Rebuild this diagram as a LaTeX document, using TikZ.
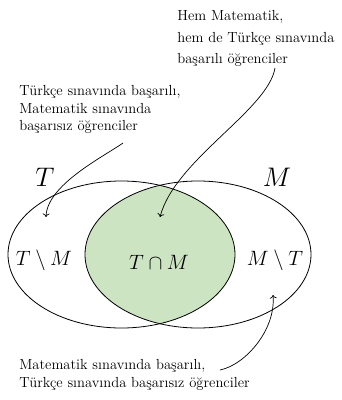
\documentclass[tikz,border=0pt]{standalone}
\usepackage{tikz}
\usetikzlibrary{arrows.meta}
\definecolor{InterGreen}{HTML}{CCE4C2}

\begin{document}
\begin{tikzpicture}[
  x=1pt, y=-1pt,
  line width=0.8pt,
  >={To[length=3.5pt,width=7pt]},
  % explanatory note
  note/.style={align=left, inner sep=0pt, anchor=north west,
               font=\fontsize{14.6}{17.5}\selectfont},
  % region label inside the sets
  rlab/.style={inner sep=0pt, anchor=base, font=\fontsize{20.74}{25}\selectfont},
  % set name
  slab/.style={inner sep=0pt, anchor=base, font=\fontsize{24.88}{30}\selectfont},
  % curved pointer from a note
  pointer/.style={->, line width=0.7pt},
]
\useasboundingbox (0,0) rectangle (342,400);

% ── Ellipse centres ──────────────────────────────────────────────────────────
\def\cT{121.5}  % T centre x
\def\cM{198}    % M centre x
\def\cy{254.5}  % common centre y

%% ── Intersection fill ─────────────────────────────────────────────────────
\begin{scope}
  \clip (\cT,\cy) ellipse [x radius=113.5pt, y radius=73.5pt];
  \fill[InterGreen] (\cM,\cy) ellipse [x radius=113pt, y radius=73.5pt];
\end{scope}

%% ── Sets ──────────────────────────────────────────────────────────────────
\draw (\cT,\cy) ellipse [x radius=113.5pt, y radius=73.5pt];
\draw (\cM,\cy) ellipse [x radius=113pt, y radius=73.5pt];

\node[slab] (tname) at (45,186) {\scalebox{1.08}{$T$}};
\node[slab] (mname) at (277,186) {\scalebox{1.08}{$M$}};

%% ── Regions ───────────────────────────────────────────────────────────────
\node[rlab] (tonly) at (44,265) {$T \setminus M$};
\node[rlab] (both)  at (159,269) {$T \cap M$};
\node[rlab] (monly) at (275,265) {$M \setminus T$};

%% ── Notes ─────────────────────────────────────────────────────────────────
\node[note, font=\fontsize{14.6}{21.5}\selectfont] (topnote) at (177,10)
  {Hem Matematik,\\hem de Türkçe sınavında\\başarılı öğrenciler};
\node[note] (leftnote) at (19,85)
  {Türkçe sınavında başarılı,\\Matematik sınavında\\başarısız öğrenciler};
\node[note] (botnote) at (19,359)
  {Matematik sınavında başarılı,\\Türkçe sınavında başarısız öğrenciler};

%% ── Pointers ──────────────────────────────────────────────────────────────
\coordinate (topnote-tail) at (275,68);
\coordinate (both-head)    at (160,217);
\coordinate (leftnote-tail) at (123,143);
\coordinate (tonly-head)    at (46,217);
\coordinate (botnote-tail) at (220,370);
\coordinate (monly-head)   at (273,295);

\draw[pointer] (topnote-tail) .. controls (268,110) and (175,160) .. (both-head);
\draw[pointer] (leftnote-tail) .. controls (103,157) and (47,185) .. (tonly-head);
\draw[pointer] (botnote-tail) .. controls (245,365) and (276,330) .. (monly-head);

\end{tikzpicture}
\end{document}
